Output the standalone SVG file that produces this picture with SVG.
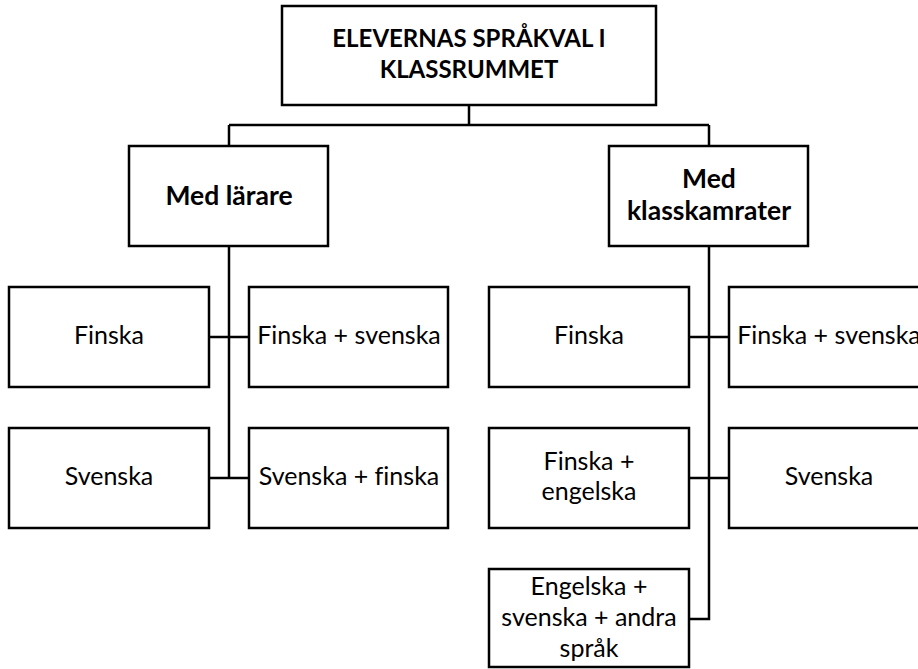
<svg xmlns="http://www.w3.org/2000/svg" width="918" height="669" viewBox="0 0 918 669">
<style>
.box{fill:#fff;stroke:#000;stroke-width:2.5}
.ln{fill:none;stroke:#000;stroke-width:2.5}
text{font-family:Lato,"Open Sans",sans-serif;fill:#000;text-anchor:middle;font-variant-ligatures:none}
.r{font-size:25px}
.b{font-size:24px;font-weight:bold}
.m{font-size:26.5px;font-weight:bold}
</style>
<rect width="918" height="669" fill="#fff"/>
<g id="connectors">
<path class="ln" d="M469,105 V125 M229,125 H709 M229,125 V146 M709,125 V146"/>
<path class="ln" d="M229,246 V478 M209,337 H249 M209,478 H249"/>
<path class="ln" d="M709,246 V619 H689 M689,337 H729 M689,478 H729"/>
</g>
<g id="root"><rect class="box" x="282" y="6" width="374" height="99"/>
<text class="b" x="469" y="47">ELEVERNAS SPRÅKVAL I</text><text class="b" x="469" y="78">KLASSRUMMET</text></g>
<g id="lar"><rect class="box" x="129" y="146" width="199" height="100"/><text class="m" x="229" y="205">Med lärare</text></g>
<g id="kam"><rect class="box" x="609" y="146" width="199" height="100"/><text class="m" x="709" y="188">Med</text><text class="m" x="709" y="220">klasskamrater</text></g>
<g id="l1"><rect class="box" x="9" y="287" width="200" height="100"/><text class="r" x="109" y="344">Finska</text></g>
<g id="l2"><rect class="box" x="249" y="287" width="199" height="100"/><text class="r" x="349" y="344">Finska + svenska</text></g>
<g id="l3"><rect class="box" x="9" y="428" width="200" height="100"/><text class="r" x="109" y="485">Svenska</text></g>
<g id="l4"><rect class="box" x="249" y="428" width="199" height="100"/><text class="r" x="349" y="485">Svenska + finska</text></g>
<g id="k1"><rect class="box" x="489" y="287" width="200" height="100"/><text class="r" x="589" y="344">Finska</text></g>
<g id="k2"><rect class="box" x="729" y="287" width="199" height="100"/><text class="r" x="829" y="344">Finska + svenska</text></g>
<g id="k3"><rect class="box" x="489" y="428" width="200" height="100"/><text class="r" x="589" y="470">Finska +</text><text class="r" x="589" y="500">engelska</text></g>
<g id="k4"><rect class="box" x="729" y="428" width="199" height="100"/><text class="r" x="829" y="485">Svenska</text></g>
<g id="k5"><rect class="box" x="489" y="569" width="200" height="98"/><text class="r" x="589" y="595">Engelska +</text><text class="r" x="589" y="626">svenska + andra</text><text class="r" x="589" y="657">språk</text></g>
</svg>
